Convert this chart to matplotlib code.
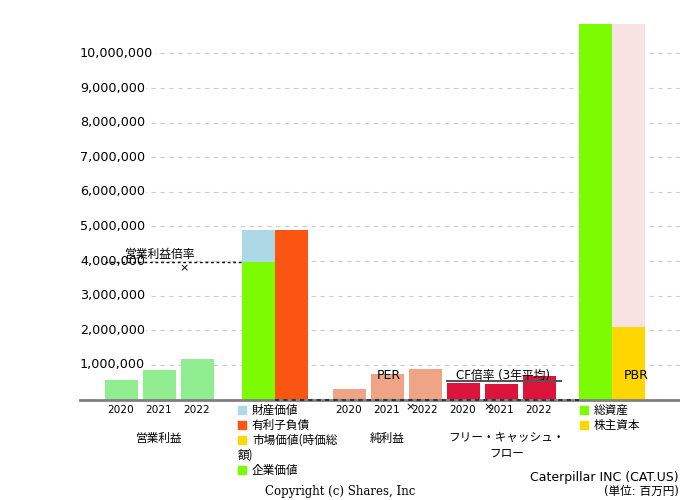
import matplotlib.pyplot as plt
from matplotlib.transforms import blended_transform_factory

plt.rcParams['font.family'] = ['DejaVu Sans', 'Noto Sans CJK JP']

years = ['2020', '2021', '2022']
op_income = [560000, 850000, 1160000]
ev_value = 3970000
asset_value = 930000
debt = 4900000
net_income = [300000, 740000, 880000]
fcf = [490000, 460000, 690000]
fcf_avg = 540000
total_assets = 10850000
equity = 2090000
op_multiple = 3970000
yticks = list(range(1000000, 10000001, 1000000))

c_op = '#90EE90'
c_ev = '#7CFC00'
c_asset = '#ADD8E6'
c_debt = '#FA5511'
c_mcap = '#FFD700'
c_ni = '#F0A486'
c_fcf = '#DC143C'
c_liab = '#F8E2E2'

fig = plt.figure(figsize=(6.8, 5), dpi=100)
ax = fig.add_axes([80 / 680, 100.5 / 500, 600 / 680, 375.5 / 500])
ax.set_xlim(0, 600)
ax.set_ylim(0, 10850000)

w = 33
step = 38
op_x = [41 + i * step for i in range(3)]
ni_x = [269 + i * step for i in range(3)]
fcf_x = [383 + i * step for i in range(3)]
ev_x = 178.5
debt_x = ev_x + w
ta_x = 515.5
eq_x = ta_x + w

ax.bar(op_x, op_income, width=w, color=c_op, zorder=2)
ax.bar(ev_x, ev_value, width=w, color=c_ev, zorder=2)
ax.bar(ev_x, asset_value, bottom=ev_value, width=w, color=c_asset, zorder=2)
ax.bar(debt_x, debt, width=w, color=c_debt, zorder=2)
ax.bar(ni_x, net_income, width=w, color=c_ni, zorder=2)
ax.bar(fcf_x, fcf, width=w, color=c_fcf, zorder=2)
ax.bar(ta_x, total_assets, width=w, color=c_ev, zorder=2)
ax.bar(eq_x, total_assets, width=w, color=c_liab, zorder=1.5)
ax.bar(eq_x, equity, width=w, color=c_mcap, zorder=2)

# multiples
ax.plot([25, ev_x - w / 2], [op_multiple, op_multiple], color='black',
        lw=1, ls=(0, (2, 2)), zorder=3)
ax.plot([fcf_x[0] - w / 2, fcf_x[2] + w / 2 + 5], [fcf_avg, fcf_avg],
        color='#555555', lw=1.5, zorder=3)
ax.plot([debt_x - w / 2, ta_x - w / 2], [0, 0], color='#333333',
        lw=1.5, ls=(0, (2, 2)), zorder=4, clip_on=False)

jp = ['Noto Sans CJK JP', 'DejaVu Sans']
ax.text(80, 4200000, '営業利益倍率', ha='center', va='center', fontsize=8.5,
        family=jp, zorder=5)
ax.text(104, 3800000, '×', ha='center', va='center', fontsize=8, zorder=5)
ax.text(309, 680000, 'PER', ha='center', va='center', fontsize=9, zorder=5)
ax.text(330, -220000, '×', ha='center', va='center', fontsize=8, clip_on=False)
ax.text(423, 680000, 'CF倍率 (3年平均)', ha='center', va='center', fontsize=8.5,
        zorder=5)
ax.text(408, -220000, '×', ha='center', va='center', fontsize=8, clip_on=False)
ax.text(556, 680000, 'PBR', ha='center', va='center', fontsize=9, zorder=5)

# axes styling
for s in ['top', 'right', 'left']:
    ax.spines[s].set_visible(False)
ax.spines['bottom'].set_color('#808080')
ax.spines['bottom'].set_linewidth(2)
ax.spines['bottom'].set_zorder(3.5)
ax.set_yticks(yticks)
ax.set_yticklabels([])
ax.set_xticks([])
ax.tick_params(axis='y', length=0)
ax.yaxis.grid(True, color='#CCCCCC', ls=(0, (4, 4)), lw=0.8)
ax.set_axisbelow(True)

for v in yticks:
    ax.text(0, v, f'{v:,}', ha='left', va='center', fontsize=9.2, zorder=1.2,
            bbox=dict(facecolor='white', edgecolor='none', pad=1))

tr = blended_transform_factory(ax.transData, ax.transAxes)
for xs in [op_x, ni_x, fcf_x]:
    for x, y in zip(xs, years):
        ax.text(x, -0.027, y, transform=tr, ha='center', va='center', fontsize=7.6)

ax.text(op_x[1], -0.103, '営業利益', transform=tr, ha='center', va='center',
        fontsize=8.4, family=jp)
ax.text(ni_x[1], -0.103, '純利益', transform=tr, ha='center', va='center',
        fontsize=8.4, family=jp)
ax.text(fcf_x[1] + 6, -0.122, 'フリー・キャッシュ・\nフロー', transform=tr,
        ha='center', va='center', fontsize=8.4, family=jp, linespacing=1.25)

legend1 = [(c_asset, '財産価値'), (c_debt, '有利子負債'), (c_mcap, '市場価値(時価総'),
           (c_ev, '企業価値')]
rows1 = [-0.028, -0.068, -0.108, -0.188]
for (c, t), yy in zip(legend1, rows1):
    ax.add_patch(plt.Rectangle((158, yy - 0.011), 8, 0.022, transform=tr,
                               color=c, clip_on=False))
    ax.text(172, yy, t, transform=tr, ha='left', va='center', fontsize=8.4,
            family=jp)
ax.text(158, -0.148, '額)', transform=tr, ha='left', va='center', fontsize=8.4,
        family=jp)

legend2 = [(c_ev, '総資産'), (c_mcap, '株主資本')]
for (c, t), yy in zip(legend2, [-0.028, -0.068]):
    ax.add_patch(plt.Rectangle((500, yy - 0.011), 8, 0.022, transform=tr,
                               color=c, clip_on=False))
    ax.text(514, yy, t, transform=tr, ha='left', va='center', fontsize=8.4,
            family=jp)

fig.text(679 / 680, 0.046, 'Caterpillar INC (CAT.US)', ha='right', va='center',
         fontsize=9)
fig.text(679 / 680, 0.018, '(単位: 百万円)', ha='right', va='center', fontsize=8.4)
fig.text(0.5, 0.018, 'Copyright (c) Shares, Inc', ha='center', va='center',
         fontsize=8.5, family='DejaVu Serif')

fig.savefig('out.png', dpi=100)
